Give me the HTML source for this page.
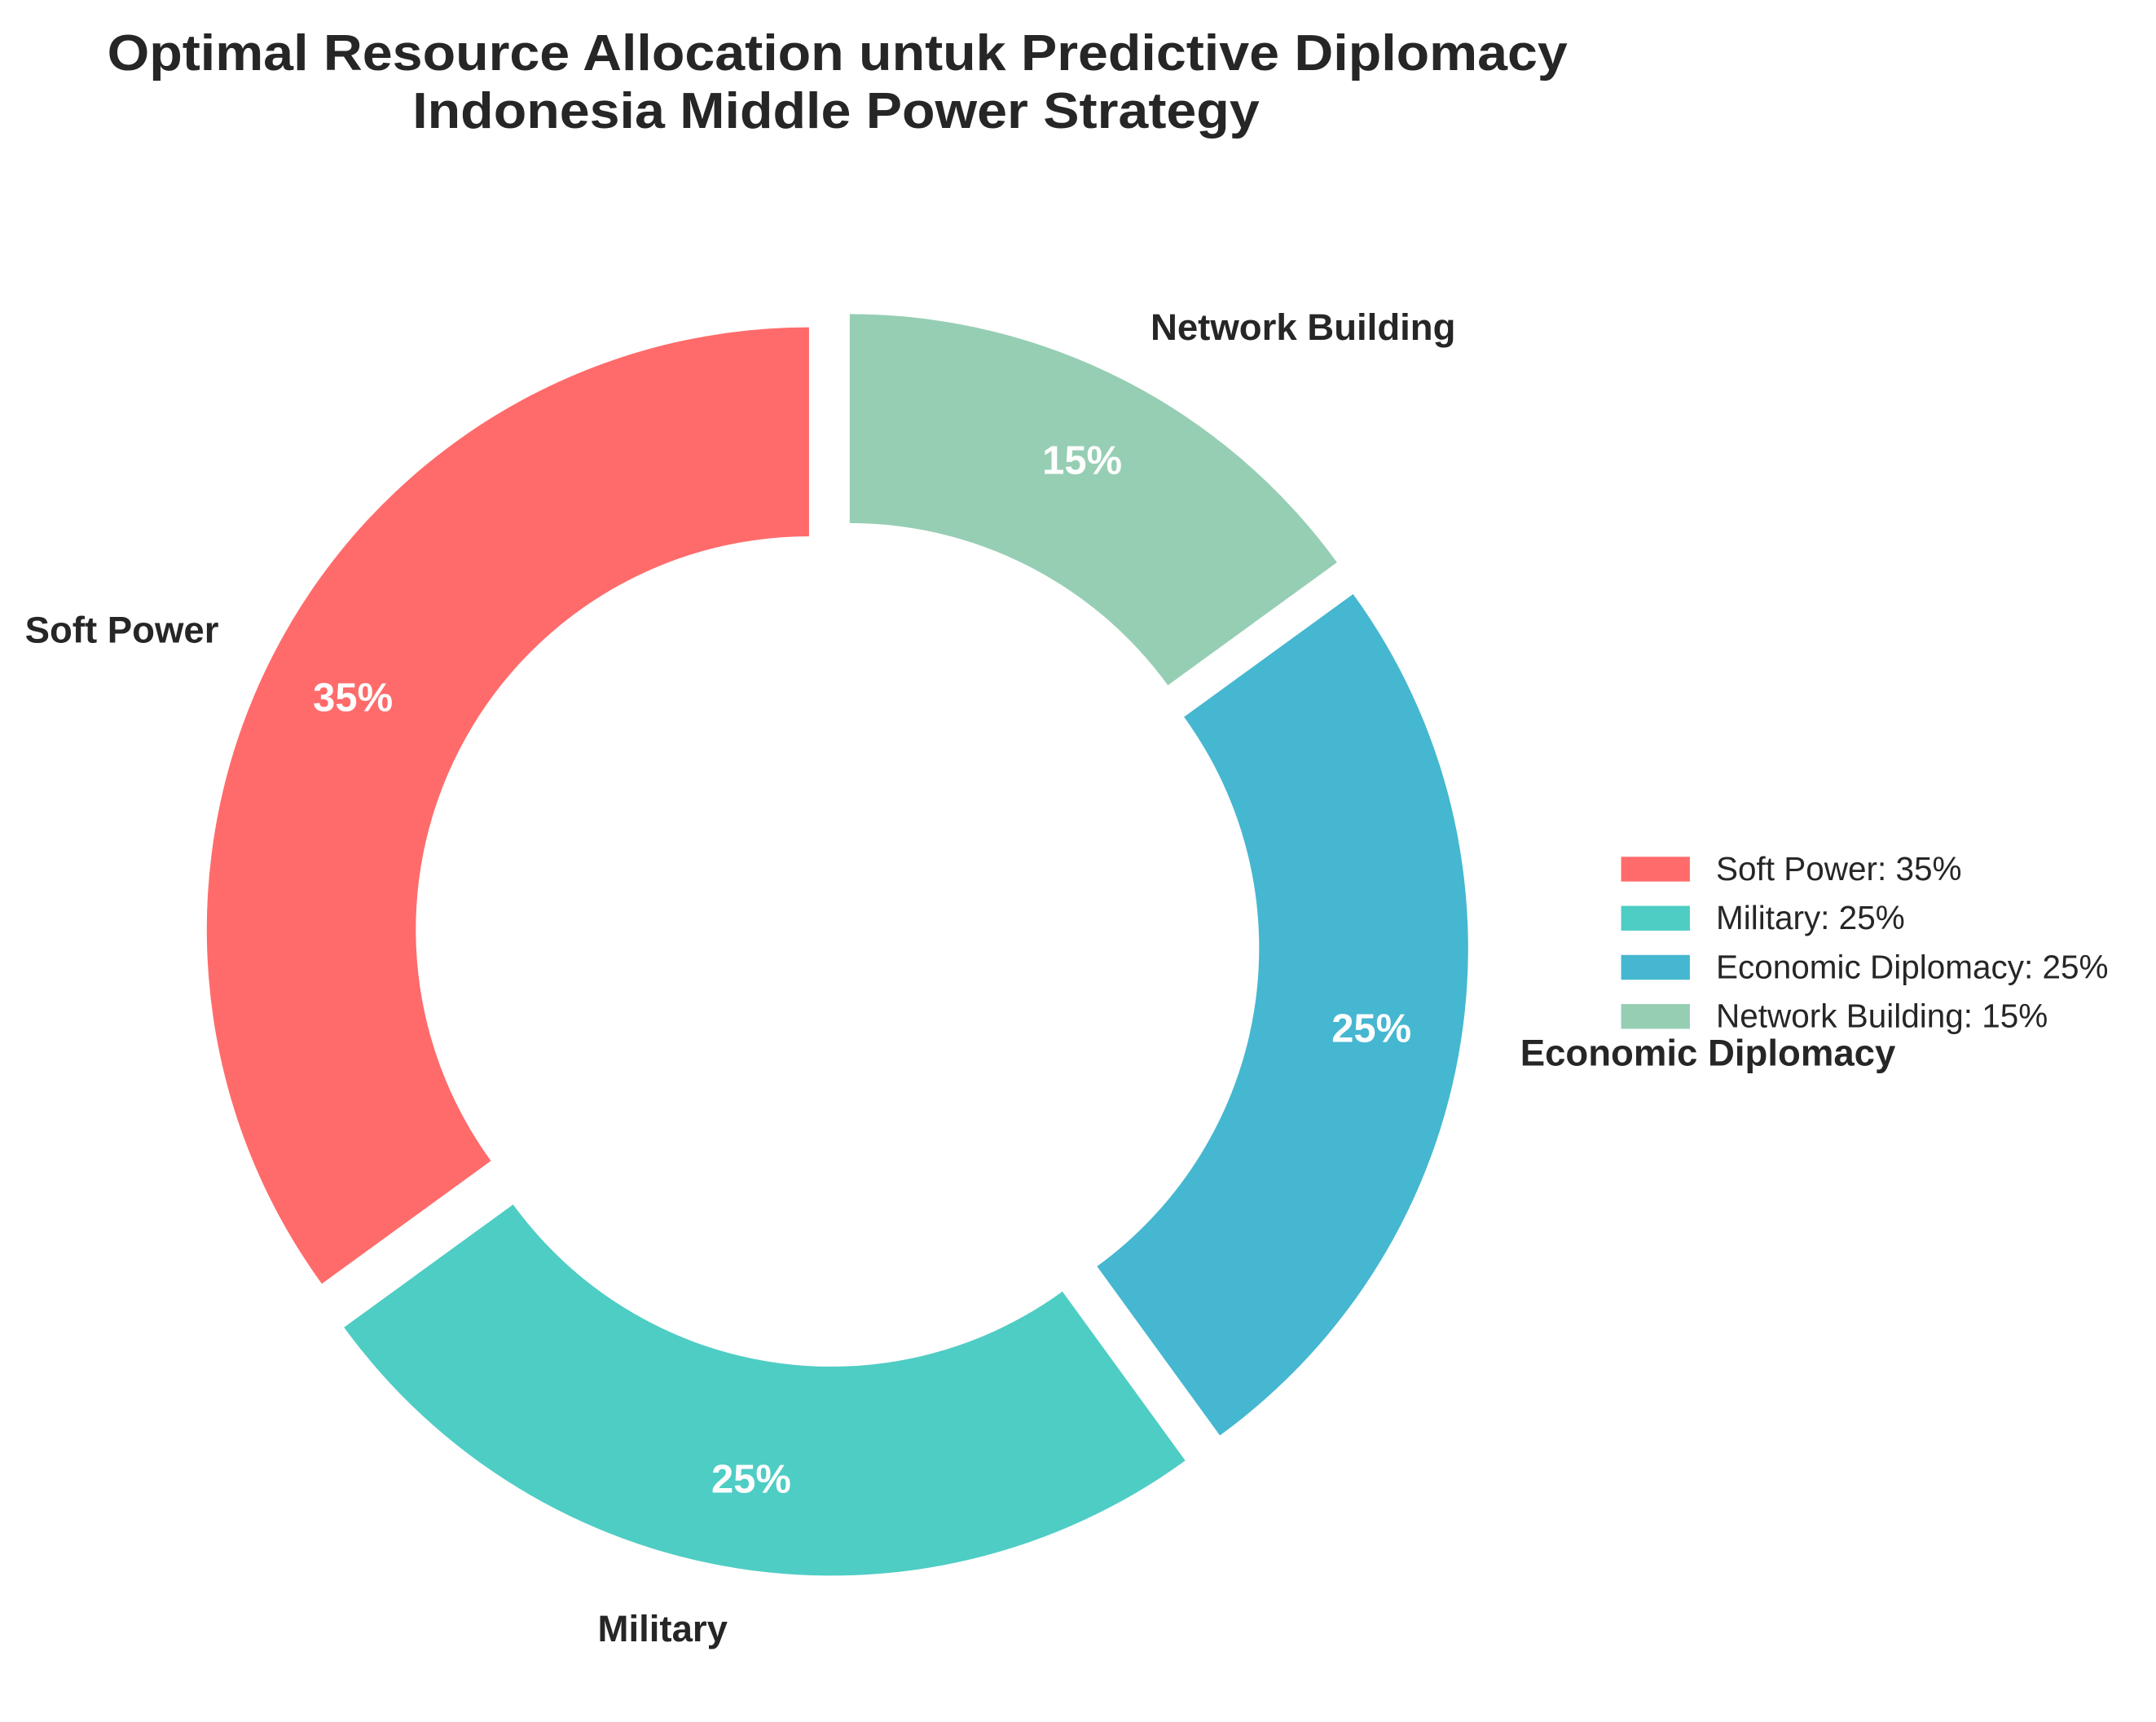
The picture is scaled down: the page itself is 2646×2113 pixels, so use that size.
<!DOCTYPE html>
<html><head><meta charset="utf-8"><style>
html,body{margin:0;padding:0;background:#fff;}
svg{display:block;}
text{font-family:"Liberation Sans",Arial,sans-serif;}
</style></head><body>
<svg id="chart" width="2646" height="2113" viewBox="0 0 1568 1252.15" xmlns="http://www.w3.org/2000/svg">
<rect width="1568" height="1252.15" fill="#fff"/>
<text x="609" y="51" text-anchor="middle" font-size="37" font-weight="bold" fill="#262626" textLength="1062" lengthAdjust="spacingAndGlyphs">Optimal Resource Allocation untuk Predictive Diplomacy</text>
<text x="608" y="93" text-anchor="middle" font-size="37" font-weight="bold" fill="#262626" textLength="616" lengthAdjust="spacingAndGlyphs">Indonesia Middle Power Strategy</text>
<g id="slices"></g>
<g id="labels"></g>
<g id="legend"></g>
</svg>
<script>
const categories = ["Soft Power", "Military", "Economic Diplomacy", "Network Building"];
const values = [35, 25, 25, 15];
const colors = ["#FF6B6B", "#4ECDC4", "#45B7D1", "#96CEB4"];

const NS = "http://www.w3.org/2000/svg";
const cx = 608, cy = 686, R = 438, r = 286, explode = 22;
const total = values.reduce((a, b) => a + b, 0);
const sliceG = document.getElementById("slices");
const labelG = document.getElementById("labels");
const legendG = document.getElementById("legend");
function pt(ox, oy, rad, a) { return [ox + rad * Math.cos(a), oy - rad * Math.sin(a)]; }
let start = 90;
categories.forEach((cat, i) => {
  const sweep = values[i] / total * 360;
  const a0 = start * Math.PI / 180, a1 = (start + sweep) * Math.PI / 180;
  const mid = (a0 + a1) / 2;
  const ox = cx + explode * Math.cos(mid), oy = cy - explode * Math.sin(mid);
  const large = sweep > 180 ? 1 : 0;
  const p0 = pt(ox, oy, R, a0), p1 = pt(ox, oy, R, a1), q1 = pt(ox, oy, r, a1), q0 = pt(ox, oy, r, a0);
  const d = `M${p0[0]},${p0[1]} A${R},${R} 0 ${large} 0 ${p1[0]},${p1[1]} L${q1[0]},${q1[1]} A${r},${r} 0 ${large} 1 ${q0[0]},${q0[1]} Z`;
  const path = document.createElementNS(NS, "path");
  path.setAttribute("d", d);
  path.setAttribute("fill", colors[i]);
  
  
  sliceG.appendChild(path);

  const pp = pt(ox, oy, 0.85 * R, mid);
  const pct = document.createElementNS(NS, "text");
  pct.setAttribute("x", pp[0]); pct.setAttribute("y", pp[1] + 10);
  pct.setAttribute("text-anchor", "middle");
  pct.setAttribute("font-size", "29"); pct.setAttribute("font-weight", "bold"); pct.setAttribute("fill", "#fff");
  pct.textContent = Math.round(values[i] / total * 100) + "%";
  
  
  labelG.appendChild(pct);

  const lp = pt(ox, oy, 1.1 * R, mid);
  const lab = document.createElementNS(NS, "text");
  const c = Math.cos(mid);
  lab.setAttribute("x", lp[0]); lab.setAttribute("y", lp[1] + 10);
  lab.setAttribute("text-anchor", c >= 0 ? "start" : "end");
  lab.setAttribute("font-size", "27"); lab.setAttribute("font-weight", "bold"); lab.setAttribute("fill", "#262626");
  lab.textContent = cat;
  
  
  labelG.appendChild(lab);

  const ly = 632 + i * 35.7;
  const rect = document.createElementNS(NS, "rect");
  rect.setAttribute("x", 1179); rect.setAttribute("y", ly - 9); rect.setAttribute("width", 50); rect.setAttribute("height", 18);
  rect.setAttribute("fill", colors[i]);
  
  
  legendG.appendChild(rect);
  const lt = document.createElementNS(NS, "text");
  lt.setAttribute("x", 1248); lt.setAttribute("y", ly + 8);
  lt.setAttribute("font-size", "24"); lt.setAttribute("fill", "#262626");
  lt.textContent = cat + ": " + values[i] + "%";
  
  
  legendG.appendChild(lt);

  start += sweep;
});
</script>
</body></html>
